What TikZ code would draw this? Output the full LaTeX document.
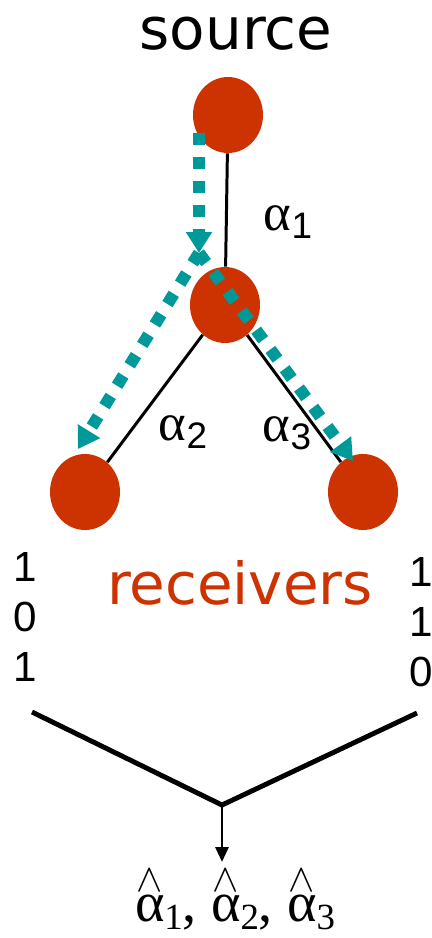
\RequirePackage{fix-cm}
\documentclass[tikz,border=0pt]{standalone}
\usepackage{fontspec}
\setmainfont{Liberation Sans}
\newfontfamily\handfont{DejaVu Sans}
\newfontfamily\greekfont{Liberation Serif}
\usepackage{xcolor}
\usepackage{tikz}
\usetikzlibrary{arrows.meta,shapes.geometric}
\definecolor{nodered}{HTML}{CC3300}
\definecolor{flowteal}{HTML}{009999}
\newcommand{\lowdigit}[1]{\raisebox{-0.3ex}{\fontsize{21}{21}\selectfont #1}}
\newcommand{\esthat}[1]{\ensuremath{\stackrel{\wedge}{\mbox{#1}}}}

\begin{document}
\begin{tikzpicture}[
  x=0.02cm, y=-0.02cm,
  peer/.style={ellipse, fill=nodered, minimum width=1.4cm, minimum height=1.52cm, inner sep=0pt},
  link/.style={line width=1.7pt, draw=black},
  merge/.style={line width=2.8pt, draw=black},
  flow/.style={draw=flowteal, line width=0.24cm, dash pattern=on 0.24cm off 0.24cm,
               -{Triangle[length=0.42cm,width=0.5cm]}},
  tag/.style={font=\fontsize{30}{34}\selectfont},
  bits/.style={align=center, font=\fontsize{24}{28.5}\selectfont},
  title/.style={font=\handfont\fontsize{33}{40}\selectfont}
]
  \useasboundingbox (0,0) rectangle (432,938);
  \node[title] (srclbl) at (236,34) {source};
  \node[peer] (src) at (228,115) {};
  \node[peer] (mid) at (225,305) {};
  \node[peer] (rxl) at (85,492) {};
  \node[peer] (rxr) at (363,492) {};
  \draw[link] (src) -- (mid);
  \draw[link] (mid) -- (rxl);
  \draw[link] (mid) -- (rxr);
  % multicast probe paths
  \coordinate (tap) at (199,133);
  \coordinate (fork) at (199,253);
  \coordinate (hitL) at (78,449);
  \coordinate (hitR) at (353,461);
  \draw[flow] (tap) -- (fork);
  \draw[flow] (fork) -- (hitL);
  \draw[flow] (fork) -- (hitR);
  \node[tag] (a1) at (288,222) {{\greekfont α}\lowdigit{1}};
  \node[tag] (a2) at (183,432) {{\greekfont α}\lowdigit{2}};
  \node[tag] (a3) at (287,433) {{\greekfont α}\lowdigit{3}};
  \node[title, text=nodered] (rxlbl) at (240,583) {receivers};
  \node[bits] (bitsL) at (25,617) {1\\0\\1};
  \node[bits] (bitsR) at (421,622) {1\\1\\0};
  % combine the observations
  \coordinate (inL) at (32,712);
  \coordinate (inR) at (417,713);
  \coordinate (join) at (222,805);
  \draw[merge] (inL) -- (join) -- (inR);
  \node[tag, anchor=north, font=\greekfont\fontsize{32}{36}\selectfont] (est) at (235,862)
    {\esthat{α}\lowdigit{1}, \esthat{α}\lowdigit{2}, \esthat{α}\lowdigit{3}};
  \draw[link, -{Triangle[length=0.3cm,width=0.26cm]}] (join) -- (join |- est.north);
\end{tikzpicture}
\end{document}
